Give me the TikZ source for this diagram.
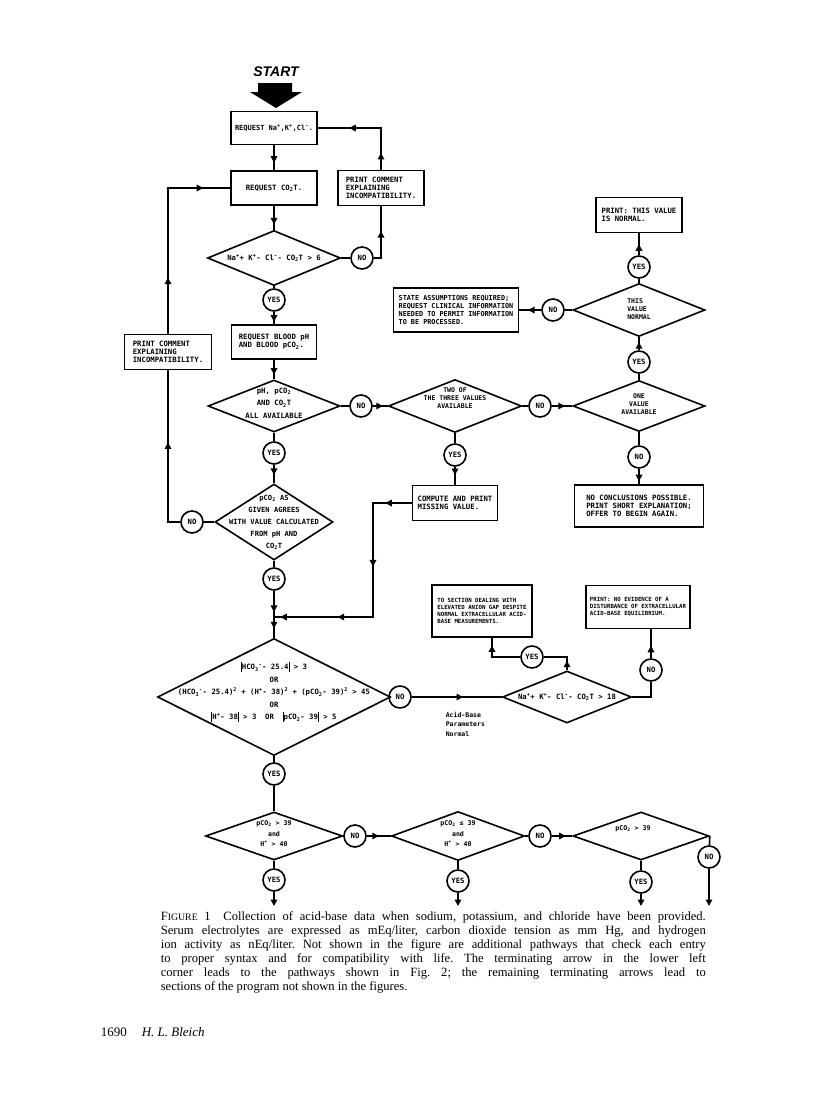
\documentclass[tikz,border=0pt]{standalone}
\usepackage{fontspec}
\setmainfont{Liberation Serif}
\newfontfamily\flowfont{DejaVu Sans Mono}
\newfontfamily\startfont{Liberation Sans}
\usepackage{tikz}
\usetikzlibrary{shapes.geometric,arrows.meta,decorations.markings,calc}

\newcommand{\sps}[1]{\textsuperscript{#1}}
\newcommand{\sbs}[1]{\textsubscript{#1}}
\newcommand{\absbar}{\rule[-2pt]{0.9pt}{9.5pt}}

\begin{document}
\begin{tikzpicture}[
    x=1pt, y=-1pt,
    font=\flowfont\bfseries\fontsize{7.3}{8}\selectfont,
    line width=1.6pt,
    flowbox/.style={draw, rectangle, align=left, inner sep=0pt},
    smallbox/.style={flowbox, font=\flowfont\bfseries\fontsize{5.7}{7.2}\selectfont},
    decision/.style={draw, diamond, inner sep=0pt},
    dtext/.style={align=center, inner sep=0pt},
    narrowtext/.style={dtext, font=\flowfont\bfseries\fontsize{6.5}{8}\selectfont},
    widetext/.style={dtext, font=\flowfont\bfseries\fontsize{7.3}{12.5}\selectfont},
    lowtext/.style={dtext, font=\flowfont\bfseries\fontsize{6.6}{10.5}\selectfont},
    yn/.style={draw, circle, minimum size=22pt, inner sep=0pt},
    arrowat/.style={postaction={decorate, decoration={markings,
        mark=at position #1 with {\arrow{Triangle[length=6.5pt,width=6.5pt]}}}}},
    endarrow/.style={-{Triangle[length=6.5pt,width=6.5pt]}}
]
\useasboundingbox (0,0) rectangle (816,1100);

% Start
\node (start) at (276,72) [font=\startfont\bfseries\itshape\fontsize{14}{14}\selectfont] {START};
\fill (258,83) -- (292,83) -- (292,92) -- (302,92) -- (276,108) -- (250,92) -- (258,92) -- cycle;

% Electrolytes
\node (reqElec) at (274,128) [flowbox, minimum width=86pt, minimum height=33pt, font=\flowfont\bfseries\fontsize{7}{8}\selectfont] {REQUEST Na\sps{+},K\sps{+},Cl\sps{-}.};
\node (reqCO2) at (274,188) [flowbox, minimum width=86pt, minimum height=34pt] {REQUEST CO\sbs{2}T.};
\node (commentR) at (381,188) [flowbox, minimum width=86pt, minimum height=35pt] {PRINT COMMENT\\EXPLAINING\\INCOMPATIBILITY.};
\node (gapCheck) at (274,258) [decision, minimum width=133pt, minimum height=55pt] {};
\node at (gapCheck) [dtext] {Na\sps{+}+ K\sps{+}- Cl\sps{-}- CO\sbs{2}T > 6};
\node (noGap) at (362,258) [yn] {NO};
\node (yesGap) at (274,300) [yn] {YES};

\draw [arrowat=0.7] (reqElec) -- (reqCO2);
\draw [arrowat=0.78] (reqCO2) -- (gapCheck);
\draw (gapCheck) -- (noGap);
\draw [arrowat=0.58] (noGap.east) -| (commentR.south);
\draw [arrowat=0.16, arrowat=0.7] (commentR.north) |- (reqElec.east);
\draw (gapCheck) -- (yesGap);

% Blood values
\node (reqBlood) at (274,342) [flowbox, minimum width=85pt, minimum height=34pt] {REQUEST BLOOD pH\\AND BLOOD pCO\sbs{2}.};
\node (allAvail) at (274,406) [decision, minimum width=132pt, minimum height=52pt] {};
\node at (274,403) [widetext] {pH, pCO\sbs{2}\\AND CO\sbs{2}T\\ALL AVAILABLE};
\node (noAll) at (361,406) [yn] {NO};
\node (twoAvail) at (455,406) [decision, minimum width=133pt, minimum height=53pt] {};
\node at (455,398) [narrowtext] {TWO OF\\THE THREE VALUES\\AVAILABLE};
\node (noTwo) at (540,406) [yn] {NO};
\node (oneAvail) at (639,406) [decision, minimum width=132pt, minimum height=51pt] {};
\node at (639,404) [narrowtext] {ONE\\VALUE\\AVAILABLE};

\draw [arrowat=0.8] (yesGap) -- (reqBlood);
\draw [arrowat=0.76] (reqBlood) -- (allAvail);
\draw (allAvail) -- (noAll);
\draw [arrowat=0.67] (noAll) -- (twoAvail);
\draw (twoAvail) -- (noTwo);
\draw [arrowat=0.64] (noTwo) -- (oneAvail);

% One value available
\node (yesOne) at (639,362) [yn] {YES};
\node (normalChk) at (639,310) [decision, minimum width=132pt, minimum height=53pt] {};
\node at (639,309) [narrowtext, align=left] {THIS\\VALUE\\NORMAL};
\node (yesNormal) at (639,267) [yn] {YES};
\node (printNormal) at (639,215) [flowbox, minimum width=86pt, minimum height=35pt] {PRINT: THIS VALUE\\IS NORMAL.};
\node (noNormal) at (553,310) [yn] {NO};
\node (stateAssume) at (456,310) [flowbox, minimum width=125pt, minimum height=44pt, font=\flowfont\bfseries\fontsize{6.8}{8}\selectfont] {STATE ASSUMPTIONS REQUIRED;\\REQUEST CLINICAL INFORMATION\\NEEDED TO PERMIT INFORMATION\\TO BE PROCESSED.};
\node (noOne) at (639,457) [yn] {NO};
\node (noConcl) at (639,506) [flowbox, minimum width=129pt, minimum height=42pt] {NO CONCLUSIONS POSSIBLE.\\PRINT SHORT EXPLANATION;\\OFFER TO BEGIN AGAIN.};

\draw (oneAvail) -- (yesOne);
\draw [arrowat=0.62] (yesOne) -- (normalChk);
\draw (normalChk) -- (yesNormal);
\draw [arrowat=0.5] (yesNormal) -- (printNormal);
\draw (normalChk) -- (noNormal);
\draw [arrowat=0.6] (noNormal) -- (stateAssume);
\draw (oneAvail) -- (noOne);
\draw [arrowat=0.8] (noOne) -- (noConcl);

% Two values available
\node (yesTwo) at (455,455) [yn] {YES};
\node (computeMiss) at (455,503) [flowbox, minimum width=85pt, minimum height=35pt] {COMPUTE AND PRINT\\MISSING VALUE.};
\coordinate (bend) at (373,617);
\coordinate (join) at (274,617);

\draw (twoAvail) -- (yesTwo);
\draw [arrowat=0.46] (yesTwo) -- (computeMiss);
\draw [arrowat=0.105, arrowat=0.406, arrowat=0.747, arrowat=0.975] (computeMiss.west) -| (bend) -- (join);

% Agreement of pCO2
\node (yesAll) at (274,453) [yn] {YES};
\node (agreeChk) at (274,522) [decision, minimum width=118pt, minimum height=76pt] {};
\node at (agreeChk) [dtext, font=\flowfont\bfseries\fontsize{7.1}{12}\selectfont] {pCO\sbs{2} AS\\GIVEN AGREES\\WITH VALUE CALCULATED\\FROM pH AND\\CO\sbs{2}T};
\node (noAgree) at (192,522) [yn] {NO};
\node (commentL) at (168,352) [flowbox, minimum width=87pt, minimum height=35pt] {PRINT COMMENT\\EXPLAINING\\INCOMPATIBILITY.};
\node (yesAgree) at (274,579) [yn] {YES};

\draw (allAvail) -- (yesAll);
\draw [arrowat=0.55] (yesAll) -- (agreeChk);
\draw (agreeChk) -- (noAgree);
\draw [arrowat=0.56] (noAgree.west) -| (commentL.south);
\draw [arrowat=0.27, arrowat=0.87] (commentL.north) |- (reqCO2.west);
\draw (agreeChk) -- (yesAgree);

% Acid-base parameters
\node (paramChk) at (274,697) [decision, minimum width=233pt, minimum height=117pt] {};
\node at (274,692) [widetext] {\absbar HCO\sbs{3}\sps{-}- 25.4\absbar{} > 3\\OR\\(HCO\sbs{3}\sps{-}- 25.4)\sps{2} + (H\sps{+}- 38)\sps{2} + (pCO\sbs{2}- 39)\sps{2} > 45\\OR\\\absbar H\sps{+}- 38\absbar{} > 3 \ OR \ \absbar pCO\sbs{2}- 39\absbar{} > 5};
\node (noParam) at (400,697) [yn] {NO};
\node (paramLbl) at (445,711) [anchor=north west, align=left, inner sep=0pt, font=\flowfont\bfseries\fontsize{6.5}{9.5}\selectfont] {Acid-Base\\Parameters\\Normal};
\node (gapChk18) at (567,697) [decision, minimum width=129pt, minimum height=52pt] {};
\node at (gapChk18) [dtext] {Na\sps{+}+ K\sps{+}- Cl\sps{-}- CO\sbs{2}T > 18};
\node (yesGap18) at (532,657) [yn] {YES};
\node (sectionBox) at (482,611) [smallbox, minimum width=100pt, minimum height=52pt] {TO SECTION DEALING WITH\\ELEVATED ANION GAP DESPITE\\NORMAL EXTRACELLULAR ACID-\\BASE MEASUREMENTS.};
\node (noGap18) at (651,670) [yn] {NO};
\node (noEvid) at (638,607) [smallbox, minimum width=104pt, minimum height=43pt] {PRINT: NO EVIDENCE OF A\\DISTURBANCE OF EXTRACELLULAR\\ACID-BASE EQUILIBRIUM.};
\coordinate (secIn) at ([xshift=10pt]sectionBox.south);
\coordinate (evidIn) at ([xshift=13pt]noEvid.south);

\draw [arrowat=0.45, arrowat=0.8] (yesAgree) -- (paramChk);
\draw (paramChk) -- (noParam);
\draw [arrowat=0.57] (noParam) -- (gapChk18);
\draw [arrowat=0.26] (gapChk18.north) |- (yesGap18.east);
\draw [arrowat=0.84] (yesGap18.west) -| (secIn);
\draw (gapChk18.east) -| (noGap18.south);
\draw [arrowat=0.43] (noGap18.north) -- (evidIn);

% Acid or base disturbance
\node (yesParam) at (274,774) [yn] {YES};
\node (resAcid) at (274,836) [decision, minimum width=137pt, minimum height=48pt] {};
\node at (274,834) [lowtext] {pCO\sbs{2} > 39\\and\\H\sps{+} > 40};
\node (noResAcid) at (355,836) [yn] {NO};
\node (metAcid) at (458,836) [decision, minimum width=133pt, minimum height=49pt] {};
\node at (458,834) [lowtext] {pCO\sbs{2} ≤ 39\\and\\H\sps{+} > 40};
\node (noMetAcid) at (540,836) [yn] {NO};
\node (hiCO2) at (641,836) [decision, minimum width=136pt, minimum height=48pt] {};
\node at (633,829) [lowtext] {pCO\sbs{2} > 39};
\node (noHiCO2) at (709,857) [yn] {NO};
\node (yesResAcid) at (274,880) [yn] {YES};
\node (yesMetAcid) at (458,881) [yn] {YES};
\node (yesHiCO2) at (641,882) [yn] {YES};
\coordinate (endA) at (274,906);
\coordinate (endB) at (458,906);
\coordinate (endC) at (641,906);
\coordinate (endD) at (709,906);

\draw (paramChk) -- (yesParam);
\draw (yesParam) -- (resAcid);
\draw (resAcid) -- (noResAcid);
\draw [arrowat=0.5] (noResAcid) -- (metAcid);
\draw (metAcid) -- (noMetAcid);
\draw [arrowat=0.68] (noMetAcid) -- (hiCO2);
\draw (hiCO2.east) -- (noHiCO2);
\draw (resAcid) -- (yesResAcid);
\draw (metAcid) -- (yesMetAcid);
\draw (hiCO2) -- (yesHiCO2);
\draw [endarrow] (yesResAcid) -- (endA);
\draw [endarrow] (yesMetAcid) -- (endB);
\draw [endarrow] (yesHiCO2) -- (endC);
\draw [endarrow] (noHiCO2) -- (endD);

% Caption
\node (caption) at (160,911) [anchor=north west, inner sep=0pt, text width=545pt, align=justify,
    font=\rmfamily\mdseries\upshape\fontsize{12.6}{14}\selectfont\frenchspacing]
    {F{\fontsize{9.8}{14}\selectfont IGURE} 1\quad Collection of acid-base data when sodium, potassium, and chloride have been provided.\linebreak
    Serum electrolytes are expressed as mEq/liter, carbon dioxide tension as mm Hg, and hydrogen\linebreak
    ion activity as nEq/liter. Not shown in the figure are additional pathways that check each entry\linebreak
    to proper syntax and for compatibility with life. The terminating arrow in the lower left\linebreak
    corner leads to the pathways shown in Fig.~2; the remaining terminating arrows lead to\linebreak
    sections of the program not shown in the figures.};

% Page foot
\node (pageNo) at (100,1032) [anchor=west, inner sep=0pt, font=\rmfamily\mdseries\upshape\fontsize{13}{14}\selectfont] {1690};
\node (author) at (141,1032) [anchor=west, inner sep=0pt, font=\rmfamily\mdseries\itshape\fontsize{13}{14}\selectfont] {H. L. Bleich};

\end{tikzpicture}
\end{document}
